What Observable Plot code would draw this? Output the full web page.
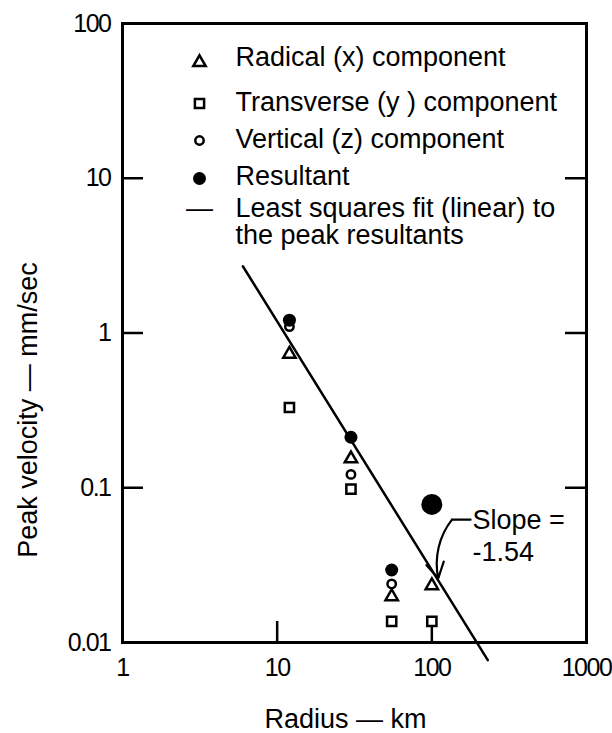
<!DOCTYPE html>
<html><head><meta charset="utf-8">
<script src="https://cdn.jsdelivr.net/npm/d3@7"></script>
<script src="https://cdn.jsdelivr.net/npm/@observablehq/plot@0.6"></script>
<style>
body{margin:0;background:#fff;}
svg text{fill:#000;}
svg [aria-label*="axis"] text{font-size:25px;letter-spacing:-1.5px;}
</style>
</head><body><div id="chart"></div>
<script>
// ---- data ----
const radialRadius = [12, 30, 55, 100];
const radialVelocity = [0.73, 0.154, 0.0198, 0.0233];
const transverseRadius = [12, 30, 55, 100];
const transverseVelocity = [0.33, 0.098, 0.0137, 0.0137];
const verticalRadius = [12, 30, 55];
const verticalVelocity = [1.10, 0.122, 0.0239];
const resultantRadius = [12, 30, 55];
const resultantVelocity = [1.21, 0.212, 0.0294];
const largeResultantRadius = [100];
const largeResultantVelocity = [0.078];
const fitRadius = [6, 230];
const fitVelocity = [2.7, 0.0077];
const xTicks = [1, 10, 100, 1000];
const xTickLabels = ["1", "10", "100", "1000"];
const yTicks = [100, 10, 1, 0.1, 0.01];
const yTickLabels = ["100", "10", "1", "0.1", "0.01"];
const innerXTicks = [10, 100];
const innerYTicks = [10, 1, 0.1];
const legendLabels = ["Radical (x) component", "Transverse (y ) component", "Vertical (z) component", "Resultant", "Least squares fit (linear) to\nthe peak resultants"];
const legendSymbols = ["triangle", "square", "circle", "dot", "line"];
const slopeText = "Slope =\n-1.54";
const slopeLeaderRadius = [178, 135];
const slopeLeaderVelocity = [0.0622, 0.0622];
const slopeArrowTip = {radius: 110, velocity: 0.026};
const xLabel = "Radius \u2014 km";
const yLabel = "Peak velocity \u2014 mm/sec";

const pts = (xs, ys) => xs.map((x, i) => ({x, y: ys[i]}));
const FS = 27;
const font = "'Liberation Sans', Arial, sans-serif";

// layout (pixels)
const W = 612, H = 733, ML = 122, MR = 26, MT = 23, MB = 91;
const FW = W - ML - MR, FH = H - MT - MB, TICK = 21;
const legSymDx = 77, legTextDx = 113;
const legSymDy = [39, 80, 117, 155, 193];
const legTextDy = [42, 87, 124.7, 161.3, 174];

const legendMarks = legendLabels.flatMap((lab, i) => {
  const s = legendSymbols[i];
  const marks = [];
  if (s === "line") {
    marks.push(Plot.text(["\u2014"], {frameAnchor: "top-left", dx: legSymDx, dy: legSymDy[i], text: d => d, textAnchor: "middle", lineAnchor: "bottom", fontSize: FS}));
  } else if (s === "dot") {
    marks.push(Plot.dot([0], {frameAnchor: "top-left", dx: legSymDx, dy: legSymDy[i], r: 6.5, fill: "black", stroke: "none"}));
  } else {
    const r = s === "triangle" ? 4.6 : s === "square" ? 5.2 : 4.2;
    marks.push(Plot.dot([0], {frameAnchor: "top-left", dx: legSymDx, dy: legSymDy[i], symbol: s, r, fill: "none", stroke: "black", strokeWidth: 2.5}));
  }
  marks.push(Plot.text([lab], {frameAnchor: "top-left", dx: legTextDx, dy: legTextDy[i], text: d => d, textAnchor: "start", lineAnchor: i === 4 ? "top" : "bottom", lineHeight: 1.0, fontSize: FS}));
  return marks;
});

const chart = Plot.plot({
  width: W,
  height: H,
  marginLeft: ML,
  marginRight: MR,
  marginTop: MT,
  marginBottom: MB,
  style: {fontFamily: font, fontSize: FS + "px", background: "white", color: "black", overflow: "visible"},
  x: {type: "log", domain: [1, 1000], ticks: xTicks, tickFormat: d => xTickLabels[xTicks.indexOf(d)], tickSize: 0, tickPadding: 16, label: null},
  y: {type: "log", domain: [0.01, 100], ticks: yTicks, tickFormat: d => yTickLabels[yTicks.indexOf(d)], tickSize: 0, tickPadding: 12, label: null},
  marks: [
    Plot.frame({stroke: "black", strokeWidth: 3}),
    Plot.tickY(innerYTicks, {y: d => d, insetRight: FW - TICK, strokeWidth: 2.5, stroke: "black"}),
    Plot.tickY(innerYTicks, {y: d => d, insetLeft: FW - TICK, strokeWidth: 2.5, stroke: "black"}),
    Plot.tickX(innerXTicks, {x: d => d, insetTop: FH - TICK, strokeWidth: 2.5, stroke: "black"}),
    Plot.line(pts(fitRadius, fitVelocity), {x: "x", y: "y", stroke: "black", strokeWidth: 2.5}),
    Plot.dot(pts(verticalRadius, verticalVelocity), {x: "x", y: "y", symbol: "circle", r: 4.2, fill: "white", stroke: "black", strokeWidth: 2.5}),
    Plot.dot(pts(resultantRadius, resultantVelocity), {x: "x", y: "y", r: 6.5, fill: "black", stroke: "none"}),
    Plot.dot(pts(largeResultantRadius, largeResultantVelocity), {x: "x", y: "y", r: 10.5, fill: "black", stroke: "none"}),
    Plot.dot(pts(radialRadius, radialVelocity), {x: "x", y: "y", symbol: "triangle", r: 4.6, fill: "white", stroke: "black", strokeWidth: 2.5}),
    Plot.dot(pts(transverseRadius, transverseVelocity), {x: "x", y: "y", symbol: "square", r: 5.2, fill: "white", stroke: "black", strokeWidth: 2.5}),
    Plot.line(pts(slopeLeaderRadius, slopeLeaderVelocity), {x: "x", y: "y", stroke: "black", strokeWidth: 2.2}),
    Plot.arrow([0], {x1: slopeLeaderRadius[1], y1: slopeLeaderVelocity[1], x2: slopeArrowTip.radius, y2: slopeArrowTip.velocity, bend: -25, headLength: 12, strokeWidth: 2.2, stroke: "black"}),
    Plot.text([slopeText], {x: slopeLeaderRadius[0], y: slopeLeaderVelocity[0], text: d => d, textAnchor: "start", lineAnchor: "middle", lineHeight: 1.2, dx: 2, dy: 15, fontSize: FS}),
    ...legendMarks,
    Plot.text([yLabel], {frameAnchor: "left", text: d => d, rotate: -90, textAnchor: "middle", dx: -94, dy: 77, fontSize: FS}),
    Plot.text([xLabel], {frameAnchor: "bottom", text: d => d, textAnchor: "middle", dx: -9, dy: 85, lineAnchor: "bottom", fontSize: FS})
  ]
});
document.getElementById("chart").appendChild(chart);
</script>
</body></html>
